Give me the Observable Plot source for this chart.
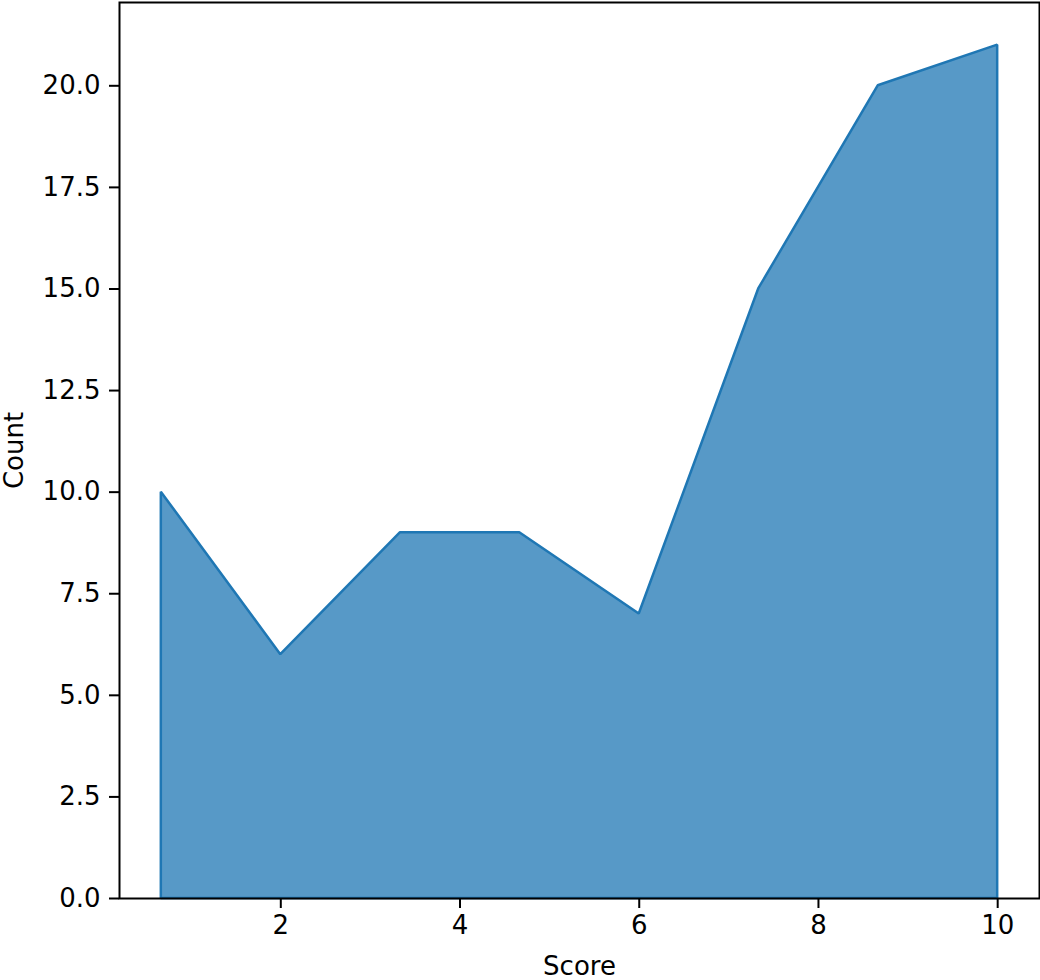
<!DOCTYPE html>
<html>
<head>
<meta charset="utf-8">
<script src="https://cdn.jsdelivr.net/npm/d3@7"></script>
<script src="https://cdn.jsdelivr.net/npm/@observablehq/plot@0.6"></script>
<style>
  html, body { margin: 0; padding: 0; background: #fff; }
</style>
</head>
<body>
<div id="chart"></div>
<script>
const scores = [2/3, 2, 10/3, 14/3, 6, 22/3, 26/3, 10];
const counts = [10, 6, 9, 9, 7, 15, 20, 21];
const xTicks = [2, 4, 6, 8, 10];
const yTicks = [0, 2.5, 5, 7.5, 10, 12.5, 15, 17.5, 20];

const data = scores.map((s, i) => ({score: s, count: counts[i]}));

const chart = Plot.plot({
  width: 1040,
  height: 980,
  marginLeft: 119,
  marginRight: 1,
  marginTop: 2,
  marginBottom: 82,
  style: {fontFamily: "DejaVu Sans", fontSize: "26px", color: "#000", background: "#fff", overflow: "visible"},
  x: {domain: [0.2, 10.4667]},
  y: {domain: [0, 22.05]},
  marks: [
    Plot.areaY(data, {x: "score", y: "count", fill: "#1f77b4", fillOpacity: 0.75, stroke: "#1f77b4", strokeWidth: 2.5, strokeLinejoin: "miter"}),
    Plot.axisX({ticks: xTicks, tickSize: 10, tickPadding: 7, tickFormat: d3.format("d"), label: "Score", labelAnchor: "center", labelArrow: "none", labelOffset: 76, strokeWidth: 2}),
    Plot.axisY({ticks: yTicks, tickSize: 10, tickPadding: 9, tickFormat: d3.format(".1f"), label: "Count", labelAnchor: "center", labelArrow: "none", labelOffset: 115, strokeWidth: 2}),
    Plot.frame({stroke: "#000", strokeWidth: 2})
  ]
});
document.getElementById("chart").appendChild(chart);
</script>
</body>
</html>
